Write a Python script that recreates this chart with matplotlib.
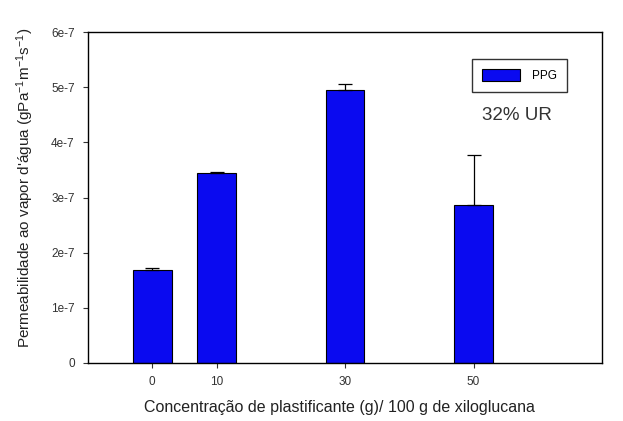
import numpy as np
import matplotlib
matplotlib.use("Agg")
import matplotlib.pyplot as plt

plt.rcParams['font.family'] = ['Liberation Sans', 'DejaVu Sans']
plt.rcParams['mathtext.fontset'] = 'custom'
plt.rcParams['mathtext.rm'] = 'Liberation Sans'
plt.rcParams['mathtext.it'] = 'Liberation Sans'

# data
concentracao = [0, 10, 30, 50]
permeabilidade = [1.68e-7, 3.44e-7, 4.95e-7, 2.86e-7]
erro = [0.05e-7, 0.02e-7, 0.10e-7, 0.92e-7]
yticks = [0, 1e-7, 2e-7, 3e-7, 4e-7, 5e-7, 6e-7]
ytick_labels = ['0', '1e-7', '2e-7', '3e-7', '4e-7', '5e-7', '6e-7']

fig = plt.figure(figsize=(6.23, 4.21), dpi=100)
ax = fig.add_axes([0.1413, 0.1378, 0.825, 0.786])

ax.bar(concentracao, permeabilidade, width=6, color='#0a0af0', edgecolor='black',
       linewidth=0.8, label='PPG',
       yerr=[np.zeros(len(erro)), erro],
       error_kw=dict(ecolor='black', elinewidth=0.9, capsize=5, capthick=0.9))

ax.set_xlim(-10, 70)
ax.set_ylim(0, 6e-7)
ax.set_xticks(concentracao)
ax.set_xticklabels([str(c) for c in concentracao])
ax.set_yticks(yticks)
ax.set_yticklabels(ytick_labels)
ax.tick_params(axis='both', direction='out', length=3.6, width=0.8, pad=6,
               labelsize=8.5, labelcolor='#333333', color='#333333')

for s in ax.spines.values():
    s.set_linewidth(1.0)
    s.set_color('black')

ax.set_xlabel('Concentração de plastificante (g)/ 100 g de xiloglucana',
              fontsize=11.5, color='#222222')
ax.xaxis.set_label_coords(0.49, -0.112)
ax.set_ylabel("Permeabilidade ao vapor d'água (gPa$^{-1}$m$^{-1}$s$^{-1}$)",
              fontsize=11, color='#222222')
ax.yaxis.set_label_coords(-0.102, 0.53)

leg = ax.legend(loc='upper left', bbox_to_anchor=(0.747, 0.918), borderaxespad=0,
                fancybox=False, edgecolor='black', fontsize=8.5,
                handlelength=3.2, handleheight=1.2, borderpad=0.85,
                handletextpad=1.0)
leg.get_frame().set_linewidth(1.0)

ax.text(0.835, 0.748, '32% UR', transform=ax.transAxes, ha='center', va='center',
        fontsize=13.5, color='#333333')

fig.savefig('out.png', dpi=100)
